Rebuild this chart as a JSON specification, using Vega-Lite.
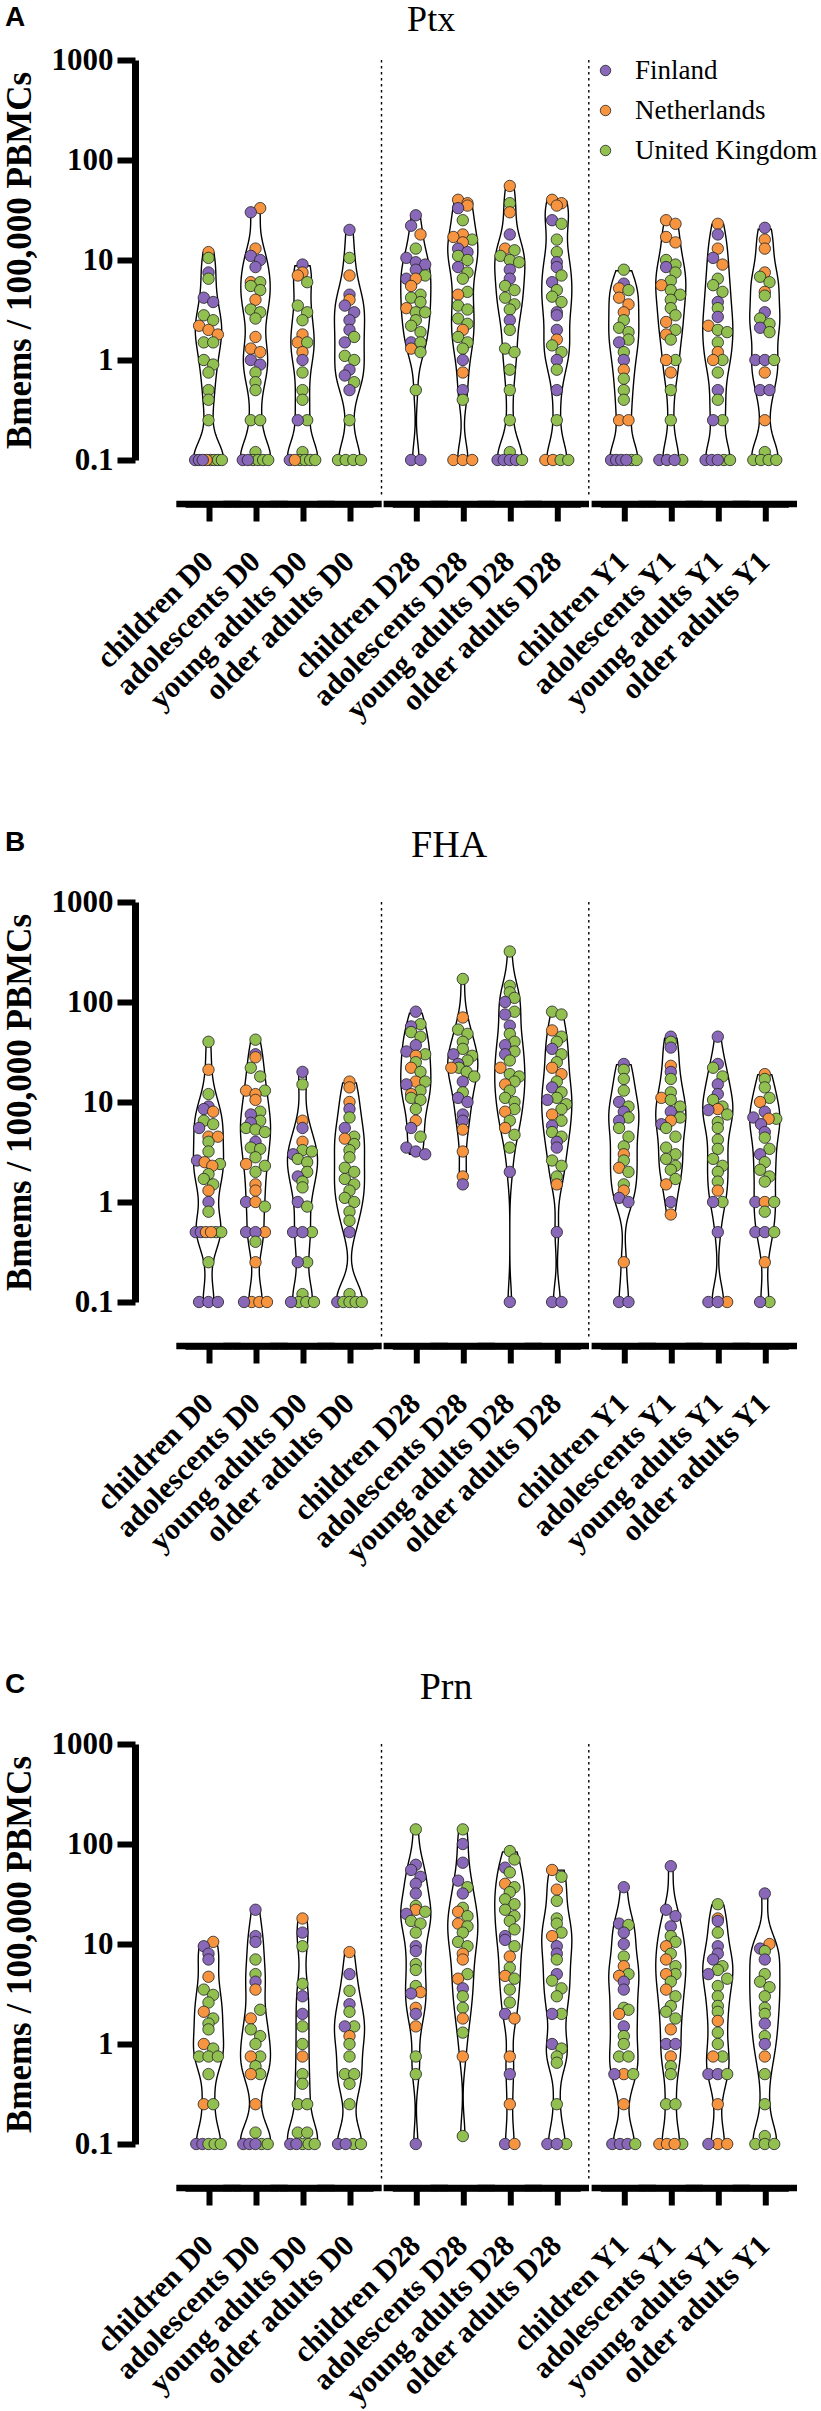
{
"$schema":"https://vega.github.io/schema/vega-lite/v6.json",
"padding":{"left":2,"right":0,"top":2,"bottom":0},
"background":"white",
"datasets":{
"Ptx_D0":[
{"age":"children","c":"Netherlands","v":12},{"age":"children","c":"United Kingdom","v":10.5},{"age":"children","c":"Finland","v":7.5},{"age":"children","c":"United Kingdom","v":6.5},{"age":"children","c":"Finland","v":4.2},{"age":"children","c":"Finland","v":3.8},{"age":"children","c":"United Kingdom","v":2.8},{"age":"children","c":"United Kingdom","v":2.5},{"age":"children","c":"Netherlands","v":2.2},{"age":"children","c":"Netherlands","v":2},{"age":"children","c":"Netherlands","v":1.8},{"age":"children","c":"United Kingdom","v":1.5},{"age":"children","c":"United Kingdom","v":1.5},{"age":"children","c":"United Kingdom","v":1},{"age":"children","c":"United Kingdom","v":0.9},{"age":"children","c":"United Kingdom","v":0.75},{"age":"children","c":"United Kingdom","v":0.5},{"age":"children","c":"United Kingdom","v":0.4},{"age":"children","c":"United Kingdom","v":0.25},{"age":"children","c":"Finland","v":0.1},{"age":"children","c":"Finland","v":0.1},{"age":"children","c":"United Kingdom","v":0.1},{"age":"children","c":"United Kingdom","v":0.1},{"age":"children","c":"United Kingdom","v":0.1},{"age":"children","c":"Netherlands","v":0.1},{"age":"children","c":"Finland","v":0.1},{"age":"children","c":"United Kingdom","v":0.1},
{"age":"adolescents","c":"Netherlands","v":33},{"age":"adolescents","c":"Finland","v":30},{"age":"adolescents","c":"Netherlands","v":13},{"age":"adolescents","c":"Finland","v":11},{"age":"adolescents","c":"Finland","v":10},{"age":"adolescents","c":"Finland","v":8.5},{"age":"adolescents","c":"Netherlands","v":6},{"age":"adolescents","c":"United Kingdom","v":6},{"age":"adolescents","c":"United Kingdom","v":5.5},{"age":"adolescents","c":"United Kingdom","v":5},{"age":"adolescents","c":"Netherlands","v":4},{"age":"adolescents","c":"United Kingdom","v":3.2},{"age":"adolescents","c":"United Kingdom","v":3},{"age":"adolescents","c":"United Kingdom","v":2.6},{"age":"adolescents","c":"Netherlands","v":1.7},{"age":"adolescents","c":"Netherlands","v":1.3},{"age":"adolescents","c":"Netherlands","v":1.2},{"age":"adolescents","c":"Finland","v":1},{"age":"adolescents","c":"Finland","v":0.9},{"age":"adolescents","c":"United Kingdom","v":0.75},{"age":"adolescents","c":"United Kingdom","v":0.6},{"age":"adolescents","c":"United Kingdom","v":0.5},{"age":"adolescents","c":"United Kingdom","v":0.25},{"age":"adolescents","c":"United Kingdom","v":0.25},{"age":"adolescents","c":"United Kingdom","v":0.12},{"age":"adolescents","c":"United Kingdom","v":0.1},{"age":"adolescents","c":"United Kingdom","v":0.1},{"age":"adolescents","c":"Finland","v":0.1},{"age":"adolescents","c":"United Kingdom","v":0.1},{"age":"adolescents","c":"United Kingdom","v":0.1},{"age":"adolescents","c":"Finland","v":0.1},
{"age":"young adults","c":"Finland","v":9},{"age":"young adults","c":"Netherlands","v":7.5},{"age":"young adults","c":"Netherlands","v":7},{"age":"young adults","c":"United Kingdom","v":6},{"age":"young adults","c":"United Kingdom","v":3.5},{"age":"young adults","c":"United Kingdom","v":3},{"age":"young adults","c":"United Kingdom","v":2.5},{"age":"young adults","c":"Netherlands","v":1.8},{"age":"young adults","c":"Netherlands","v":1.5},{"age":"young adults","c":"United Kingdom","v":1.5},{"age":"young adults","c":"Netherlands","v":1.2},{"age":"young adults","c":"Finland","v":1},{"age":"young adults","c":"United Kingdom","v":0.75},{"age":"young adults","c":"United Kingdom","v":0.5},{"age":"young adults","c":"United Kingdom","v":0.4},{"age":"young adults","c":"United Kingdom","v":0.25},{"age":"young adults","c":"Finland","v":0.25},{"age":"young adults","c":"United Kingdom","v":0.12},{"age":"young adults","c":"Finland","v":0.1},{"age":"young adults","c":"United Kingdom","v":0.1},{"age":"young adults","c":"United Kingdom","v":0.1},{"age":"young adults","c":"United Kingdom","v":0.1},{"age":"young adults","c":"United Kingdom","v":0.1},{"age":"young adults","c":"Netherlands","v":0.1},
{"age":"older adults","c":"Finland","v":20},{"age":"older adults","c":"United Kingdom","v":10.5},{"age":"older adults","c":"Netherlands","v":7},{"age":"older adults","c":"Finland","v":4.5},{"age":"older adults","c":"Netherlands","v":4},{"age":"older adults","c":"Finland","v":3.5},{"age":"older adults","c":"Finland","v":3},{"age":"older adults","c":"Finland","v":2.5},{"age":"older adults","c":"Finland","v":2},{"age":"older adults","c":"United Kingdom","v":1.7},{"age":"older adults","c":"Finland","v":1.5},{"age":"older adults","c":"United Kingdom","v":1.1},{"age":"older adults","c":"United Kingdom","v":1},{"age":"older adults","c":"Finland","v":0.8},{"age":"older adults","c":"Finland","v":0.7},{"age":"older adults","c":"United Kingdom","v":0.6},{"age":"older adults","c":"Finland","v":0.5},{"age":"older adults","c":"United Kingdom","v":0.25},{"age":"older adults","c":"United Kingdom","v":0.1},{"age":"older adults","c":"United Kingdom","v":0.1},{"age":"older adults","c":"United Kingdom","v":0.1},{"age":"older adults","c":"United Kingdom","v":0.1}
],
"Ptx_D28":[
{"age":"children","c":"Finland","v":28},{"age":"children","c":"Finland","v":22},{"age":"children","c":"Netherlands","v":18},{"age":"children","c":"United Kingdom","v":13},{"age":"children","c":"Finland","v":10.5},{"age":"children","c":"Finland","v":9.5},{"age":"children","c":"Finland","v":9},{"age":"children","c":"Finland","v":8},{"age":"children","c":"United Kingdom","v":7},{"age":"children","c":"Finland","v":6.5},{"age":"children","c":"Netherlands","v":6.5},{"age":"children","c":"Netherlands","v":5.5},{"age":"children","c":"United Kingdom","v":4.5},{"age":"children","c":"United Kingdom","v":4.2},{"age":"children","c":"United Kingdom","v":3.8},{"age":"children","c":"Netherlands","v":3.3},{"age":"children","c":"United Kingdom","v":3},{"age":"children","c":"United Kingdom","v":3},{"age":"children","c":"United Kingdom","v":2.5},{"age":"children","c":"United Kingdom","v":2.2},{"age":"children","c":"United Kingdom","v":1.9},{"age":"children","c":"Finland","v":1.5},{"age":"children","c":"United Kingdom","v":1.5},{"age":"children","c":"Netherlands","v":1.3},{"age":"children","c":"United Kingdom","v":1.2},{"age":"children","c":"United Kingdom","v":0.5},{"age":"children","c":"Finland","v":0.1},{"age":"children","c":"Finland","v":0.1},
{"age":"adolescents","c":"Netherlands","v":40},{"age":"adolescents","c":"Netherlands","v":37},{"age":"adolescents","c":"Netherlands","v":35},{"age":"adolescents","c":"Finland","v":33},{"age":"adolescents","c":"United Kingdom","v":25},{"age":"adolescents","c":"Netherlands","v":18},{"age":"adolescents","c":"Netherlands","v":17},{"age":"adolescents","c":"United Kingdom","v":16},{"age":"adolescents","c":"Netherlands","v":15},{"age":"adolescents","c":"Finland","v":13},{"age":"adolescents","c":"Finland","v":12},{"age":"adolescents","c":"United Kingdom","v":11},{"age":"adolescents","c":"United Kingdom","v":10},{"age":"adolescents","c":"Finland","v":8.5},{"age":"adolescents","c":"United Kingdom","v":7.5},{"age":"adolescents","c":"United Kingdom","v":6.5},{"age":"adolescents","c":"United Kingdom","v":4.8},{"age":"adolescents","c":"Netherlands","v":4.5},{"age":"adolescents","c":"United Kingdom","v":3.5},{"age":"adolescents","c":"United Kingdom","v":3.2},{"age":"adolescents","c":"United Kingdom","v":2.6},{"age":"adolescents","c":"United Kingdom","v":2.3},{"age":"adolescents","c":"Netherlands","v":2},{"age":"adolescents","c":"United Kingdom","v":1.7},{"age":"adolescents","c":"United Kingdom","v":1.5},{"age":"adolescents","c":"United Kingdom","v":1.3},{"age":"adolescents","c":"Finland","v":1},{"age":"adolescents","c":"Netherlands","v":0.75},{"age":"adolescents","c":"Finland","v":0.5},{"age":"adolescents","c":"United Kingdom","v":0.4},{"age":"adolescents","c":"Netherlands","v":0.1},{"age":"adolescents","c":"Netherlands","v":0.1},{"age":"adolescents","c":"Netherlands","v":0.1},
{"age":"young adults","c":"Netherlands","v":55},{"age":"young adults","c":"United Kingdom","v":37},{"age":"young adults","c":"Netherlands","v":30},{"age":"young adults","c":"Finland","v":18},{"age":"young adults","c":"Netherlands","v":13},{"age":"young adults","c":"United Kingdom","v":12.5},{"age":"young adults","c":"United Kingdom","v":11},{"age":"young adults","c":"United Kingdom","v":10},{"age":"young adults","c":"United Kingdom","v":9.5},{"age":"young adults","c":"Finland","v":8},{"age":"young adults","c":"Finland","v":6.5},{"age":"young adults","c":"United Kingdom","v":5.5},{"age":"young adults","c":"United Kingdom","v":5},{"age":"young adults","c":"United Kingdom","v":4.2},{"age":"young adults","c":"United Kingdom","v":3.6},{"age":"young adults","c":"United Kingdom","v":3.2},{"age":"young adults","c":"Finland","v":2.5},{"age":"young adults","c":"United Kingdom","v":2},{"age":"young adults","c":"United Kingdom","v":1.3},{"age":"young adults","c":"United Kingdom","v":1.2},{"age":"young adults","c":"United Kingdom","v":0.8},{"age":"young adults","c":"United Kingdom","v":0.5},{"age":"young adults","c":"United Kingdom","v":0.25},{"age":"young adults","c":"United Kingdom","v":0.12},{"age":"young adults","c":"Finland","v":0.1},{"age":"young adults","c":"Finland","v":0.1},{"age":"young adults","c":"Finland","v":0.1},{"age":"young adults","c":"Finland","v":0.1},{"age":"young adults","c":"United Kingdom","v":0.1},
{"age":"older adults","c":"Netherlands","v":40},{"age":"older adults","c":"Netherlands","v":37},{"age":"older adults","c":"Netherlands","v":35},{"age":"older adults","c":"Finland","v":25},{"age":"older adults","c":"United Kingdom","v":23},{"age":"older adults","c":"United Kingdom","v":16},{"age":"older adults","c":"United Kingdom","v":12},{"age":"older adults","c":"Finland","v":9.5},{"age":"older adults","c":"Finland","v":8.5},{"age":"older adults","c":"United Kingdom","v":7},{"age":"older adults","c":"Finland","v":6},{"age":"older adults","c":"United Kingdom","v":5},{"age":"older adults","c":"United Kingdom","v":4.3},{"age":"older adults","c":"United Kingdom","v":3.8},{"age":"older adults","c":"Finland","v":3},{"age":"older adults","c":"Finland","v":2.8},{"age":"older adults","c":"Finland","v":2},{"age":"older adults","c":"Netherlands","v":1.6},{"age":"older adults","c":"United Kingdom","v":1.4},{"age":"older adults","c":"United Kingdom","v":1.2},{"age":"older adults","c":"Finland","v":1},{"age":"older adults","c":"United Kingdom","v":0.8},{"age":"older adults","c":"Finland","v":0.5},{"age":"older adults","c":"United Kingdom","v":0.25},{"age":"older adults","c":"Netherlands","v":0.1},{"age":"older adults","c":"Netherlands","v":0.1},{"age":"older adults","c":"United Kingdom","v":0.1},{"age":"older adults","c":"United Kingdom","v":0.1}
],
"Ptx_Y1":[
{"age":"children","c":"United Kingdom","v":8},{"age":"children","c":"Finland","v":5.8},{"age":"children","c":"Netherlands","v":5.2},{"age":"children","c":"United Kingdom","v":5},{"age":"children","c":"Netherlands","v":4.2},{"age":"children","c":"Netherlands","v":3.6},{"age":"children","c":"Netherlands","v":3},{"age":"children","c":"United Kingdom","v":2.5},{"age":"children","c":"United Kingdom","v":2.1},{"age":"children","c":"United Kingdom","v":1.9},{"age":"children","c":"United Kingdom","v":1.6},{"age":"children","c":"Finland","v":1.5},{"age":"children","c":"United Kingdom","v":1.2},{"age":"children","c":"Finland","v":1},{"age":"children","c":"Netherlands","v":0.8},{"age":"children","c":"United Kingdom","v":0.65},{"age":"children","c":"United Kingdom","v":0.5},{"age":"children","c":"United Kingdom","v":0.4},{"age":"children","c":"Netherlands","v":0.25},{"age":"children","c":"Netherlands","v":0.25},{"age":"children","c":"Finland","v":0.1},{"age":"children","c":"Finland","v":0.1},{"age":"children","c":"Finland","v":0.1},{"age":"children","c":"United Kingdom","v":0.1},{"age":"children","c":"United Kingdom","v":0.1},{"age":"children","c":"Finland","v":0.1},
{"age":"adolescents","c":"Netherlands","v":25},{"age":"adolescents","c":"Netherlands","v":23},{"age":"adolescents","c":"Netherlands","v":17},{"age":"adolescents","c":"Netherlands","v":15},{"age":"adolescents","c":"United Kingdom","v":10},{"age":"adolescents","c":"United Kingdom","v":9},{"age":"adolescents","c":"Finland","v":8.5},{"age":"adolescents","c":"United Kingdom","v":7.5},{"age":"adolescents","c":"United Kingdom","v":6.2},{"age":"adolescents","c":"Netherlands","v":5.6},{"age":"adolescents","c":"United Kingdom","v":5},{"age":"adolescents","c":"United Kingdom","v":4.5},{"age":"adolescents","c":"United Kingdom","v":4},{"age":"adolescents","c":"United Kingdom","v":3.3},{"age":"adolescents","c":"United Kingdom","v":2.8},{"age":"adolescents","c":"Netherlands","v":2.4},{"age":"adolescents","c":"United Kingdom","v":2},{"age":"adolescents","c":"Netherlands","v":1.8},{"age":"adolescents","c":"United Kingdom","v":1.6},{"age":"adolescents","c":"United Kingdom","v":1},{"age":"adolescents","c":"Netherlands","v":1},{"age":"adolescents","c":"Netherlands","v":0.75},{"age":"adolescents","c":"United Kingdom","v":0.5},{"age":"adolescents","c":"United Kingdom","v":0.25},{"age":"adolescents","c":"Finland","v":0.1},{"age":"adolescents","c":"Finland","v":0.1},{"age":"adolescents","c":"United Kingdom","v":0.1},{"age":"adolescents","c":"Finland","v":0.1},
{"age":"young adults","c":"Netherlands","v":23},{"age":"young adults","c":"Finland","v":18},{"age":"young adults","c":"Netherlands","v":13},{"age":"young adults","c":"Finland","v":10.5},{"age":"young adults","c":"Netherlands","v":9},{"age":"young adults","c":"United Kingdom","v":6.5},{"age":"young adults","c":"United Kingdom","v":5.6},{"age":"young adults","c":"United Kingdom","v":4.8},{"age":"young adults","c":"Finland","v":3.8},{"age":"young adults","c":"United Kingdom","v":3.3},{"age":"young adults","c":"Finland","v":2.7},{"age":"young adults","c":"Netherlands","v":2.2},{"age":"young adults","c":"United Kingdom","v":2},{"age":"young adults","c":"United Kingdom","v":1.9},{"age":"young adults","c":"United Kingdom","v":1.5},{"age":"young adults","c":"Netherlands","v":1.2},{"age":"young adults","c":"United Kingdom","v":1},{"age":"young adults","c":"Netherlands","v":1},{"age":"young adults","c":"United Kingdom","v":0.75},{"age":"young adults","c":"Finland","v":0.5},{"age":"young adults","c":"United Kingdom","v":0.4},{"age":"young adults","c":"United Kingdom","v":0.25},{"age":"young adults","c":"Finland","v":0.25},{"age":"young adults","c":"Finland","v":0.1},{"age":"young adults","c":"Finland","v":0.1},{"age":"young adults","c":"United Kingdom","v":0.1},{"age":"young adults","c":"United Kingdom","v":0.1},{"age":"young adults","c":"Finland","v":0.1},
{"age":"older adults","c":"Finland","v":21},{"age":"older adults","c":"Netherlands","v":16},{"age":"older adults","c":"Netherlands","v":13},{"age":"older adults","c":"Netherlands","v":7.5},{"age":"older adults","c":"United Kingdom","v":6.8},{"age":"older adults","c":"United Kingdom","v":6},{"age":"older adults","c":"Netherlands","v":4.8},{"age":"older adults","c":"United Kingdom","v":4.4},{"age":"older adults","c":"Finland","v":3},{"age":"older adults","c":"United Kingdom","v":2.6},{"age":"older adults","c":"United Kingdom","v":2.3},{"age":"older adults","c":"Finland","v":2.1},{"age":"older adults","c":"United Kingdom","v":1.9},{"age":"older adults","c":"Finland","v":1},{"age":"older adults","c":"Finland","v":1},{"age":"older adults","c":"United Kingdom","v":1},{"age":"older adults","c":"Netherlands","v":0.75},{"age":"older adults","c":"Finland","v":0.5},{"age":"older adults","c":"Finland","v":0.5},{"age":"older adults","c":"Netherlands","v":0.25},{"age":"older adults","c":"United Kingdom","v":0.12},{"age":"older adults","c":"United Kingdom","v":0.1},{"age":"older adults","c":"United Kingdom","v":0.1},{"age":"older adults","c":"United Kingdom","v":0.1},{"age":"older adults","c":"United Kingdom","v":0.1}
],
"FHA_D0":[
{"age":"children","c":"United Kingdom","v":40},{"age":"children","c":"Netherlands","v":21},{"age":"children","c":"United Kingdom","v":12},{"age":"children","c":"Finland","v":9},{"age":"children","c":"Finland","v":8.5},{"age":"children","c":"Netherlands","v":8},{"age":"children","c":"United Kingdom","v":6.5},{"age":"children","c":"United Kingdom","v":6},{"age":"children","c":"Finland","v":5.5},{"age":"children","c":"Netherlands","v":4.5},{"age":"children","c":"Netherlands","v":4.5},{"age":"children","c":"United Kingdom","v":4},{"age":"children","c":"United Kingdom","v":3.2},{"age":"children","c":"Finland","v":2.6},{"age":"children","c":"Netherlands","v":2.5},{"age":"children","c":"United Kingdom","v":2.4},{"age":"children","c":"Netherlands","v":2.3},{"age":"children","c":"United Kingdom","v":1.9},{"age":"children","c":"United Kingdom","v":1.7},{"age":"children","c":"United Kingdom","v":1.5},{"age":"children","c":"Netherlands","v":1.3},{"age":"children","c":"Finland","v":1},{"age":"children","c":"United Kingdom","v":0.8},{"age":"children","c":"United Kingdom","v":0.5},{"age":"children","c":"United Kingdom","v":0.5},{"age":"children","c":"Finland","v":0.5},{"age":"children","c":"Finland","v":0.5},{"age":"children","c":"Netherlands","v":0.5},{"age":"children","c":"Netherlands","v":0.5},{"age":"children","c":"United Kingdom","v":0.25},{"age":"children","c":"Finland","v":0.1},{"age":"children","c":"Finland","v":0.1},{"age":"children","c":"Finland","v":0.1},
{"age":"adolescents","c":"United Kingdom","v":42},{"age":"adolescents","c":"Finland","v":30},{"age":"adolescents","c":"Netherlands","v":28},{"age":"adolescents","c":"United Kingdom","v":22},{"age":"adolescents","c":"United Kingdom","v":18},{"age":"adolescents","c":"Netherlands","v":13},{"age":"adolescents","c":"United Kingdom","v":13},{"age":"adolescents","c":"Netherlands","v":12},{"age":"adolescents","c":"Netherlands","v":10.5},{"age":"adolescents","c":"United Kingdom","v":8},{"age":"adolescents","c":"Finland","v":7.5},{"age":"adolescents","c":"United Kingdom","v":6.5},{"age":"adolescents","c":"Finland","v":6.2},{"age":"adolescents","c":"United Kingdom","v":5.5},{"age":"adolescents","c":"United Kingdom","v":5.3},{"age":"adolescents","c":"United Kingdom","v":5},{"age":"adolescents","c":"Finland","v":4},{"age":"adolescents","c":"United Kingdom","v":3.5},{"age":"adolescents","c":"United Kingdom","v":3.4},{"age":"adolescents","c":"United Kingdom","v":2.8},{"age":"adolescents","c":"Netherlands","v":2.4},{"age":"adolescents","c":"United Kingdom","v":2.3},{"age":"adolescents","c":"United Kingdom","v":2},{"age":"adolescents","c":"Netherlands","v":1.5},{"age":"adolescents","c":"Netherlands","v":1.3},{"age":"adolescents","c":"Finland","v":1},{"age":"adolescents","c":"Netherlands","v":1},{"age":"adolescents","c":"United Kingdom","v":0.9},{"age":"adolescents","c":"Finland","v":0.5},{"age":"adolescents","c":"Netherlands","v":0.5},{"age":"adolescents","c":"Finland","v":0.5},{"age":"adolescents","c":"United Kingdom","v":0.4},{"age":"adolescents","c":"Netherlands","v":0.25},{"age":"adolescents","c":"Netherlands","v":0.1},{"age":"adolescents","c":"Finland","v":0.1},{"age":"adolescents","c":"Netherlands","v":0.1},{"age":"adolescents","c":"Netherlands","v":0.1},
{"age":"young adults","c":"Finland","v":20},{"age":"young adults","c":"United Kingdom","v":15},{"age":"young adults","c":"Netherlands","v":6.5},{"age":"young adults","c":"Finland","v":5.5},{"age":"young adults","c":"Netherlands","v":4},{"age":"young adults","c":"United Kingdom","v":3.3},{"age":"young adults","c":"United Kingdom","v":3.2},{"age":"young adults","c":"Finland","v":3},{"age":"young adults","c":"United Kingdom","v":2.7},{"age":"young adults","c":"United Kingdom","v":2.5},{"age":"young adults","c":"United Kingdom","v":2},{"age":"young adults","c":"Finland","v":1.8},{"age":"young adults","c":"United Kingdom","v":1.6},{"age":"young adults","c":"United Kingdom","v":1.4},{"age":"young adults","c":"Finland","v":1},{"age":"young adults","c":"United Kingdom","v":0.9},{"age":"young adults","c":"Finland","v":0.5},{"age":"young adults","c":"United Kingdom","v":0.5},{"age":"young adults","c":"Finland","v":0.5},{"age":"young adults","c":"United Kingdom","v":0.25},{"age":"young adults","c":"Finland","v":0.25},{"age":"young adults","c":"United Kingdom","v":0.12},{"age":"young adults","c":"United Kingdom","v":0.1},{"age":"young adults","c":"United Kingdom","v":0.1},{"age":"young adults","c":"Finland","v":0.1},{"age":"young adults","c":"United Kingdom","v":0.1},
{"age":"older adults","c":"Netherlands","v":16},{"age":"older adults","c":"Netherlands","v":14},{"age":"older adults","c":"Netherlands","v":10},{"age":"older adults","c":"Finland","v":8.5},{"age":"older adults","c":"United Kingdom","v":7},{"age":"older adults","c":"Finland","v":5.5},{"age":"older adults","c":"United Kingdom","v":4.5},{"age":"older adults","c":"Netherlands","v":4.3},{"age":"older adults","c":"United Kingdom","v":3.8},{"age":"older adults","c":"United Kingdom","v":3.3},{"age":"older adults","c":"United Kingdom","v":2.8},{"age":"older adults","c":"United Kingdom","v":2.2},{"age":"older adults","c":"United Kingdom","v":2},{"age":"older adults","c":"United Kingdom","v":1.7},{"age":"older adults","c":"United Kingdom","v":1.5},{"age":"older adults","c":"United Kingdom","v":1.3},{"age":"older adults","c":"United Kingdom","v":1.1},{"age":"older adults","c":"United Kingdom","v":1},{"age":"older adults","c":"United Kingdom","v":0.8},{"age":"older adults","c":"United Kingdom","v":0.65},{"age":"older adults","c":"Finland","v":0.5},{"age":"older adults","c":"United Kingdom","v":0.12},{"age":"older adults","c":"Finland","v":0.1},{"age":"older adults","c":"United Kingdom","v":0.1},{"age":"older adults","c":"United Kingdom","v":0.1},{"age":"older adults","c":"United Kingdom","v":0.1},{"age":"older adults","c":"United Kingdom","v":0.1}
],
"FHA_D28":[
{"age":"children","c":"Finland","v":80},{"age":"children","c":"United Kingdom","v":60},{"age":"children","c":"Finland","v":57},{"age":"children","c":"United Kingdom","v":50},{"age":"children","c":"United Kingdom","v":45},{"age":"children","c":"Finland","v":37},{"age":"children","c":"Finland","v":32},{"age":"children","c":"United Kingdom","v":30},{"age":"children","c":"Netherlands","v":29},{"age":"children","c":"United Kingdom","v":25},{"age":"children","c":"Netherlands","v":22},{"age":"children","c":"United Kingdom","v":20},{"age":"children","c":"Netherlands","v":16},{"age":"children","c":"United Kingdom","v":16},{"age":"children","c":"Finland","v":15},{"age":"children","c":"United Kingdom","v":13},{"age":"children","c":"Netherlands","v":12},{"age":"children","c":"United Kingdom","v":11},{"age":"children","c":"United Kingdom","v":10.5},{"age":"children","c":"United Kingdom","v":8.5},{"age":"children","c":"Netherlands","v":6.5},{"age":"children","c":"Finland","v":5.5},{"age":"children","c":"United Kingdom","v":4.5},{"age":"children","c":"Finland","v":3.5},{"age":"children","c":"Finland","v":3.2},{"age":"children","c":"Finland","v":3},
{"age":"adolescents","c":"United Kingdom","v":170},{"age":"adolescents","c":"Netherlands","v":70},{"age":"adolescents","c":"United Kingdom","v":53},{"age":"adolescents","c":"United Kingdom","v":48},{"age":"adolescents","c":"United Kingdom","v":40},{"age":"adolescents","c":"United Kingdom","v":34},{"age":"adolescents","c":"Finland","v":30},{"age":"adolescents","c":"United Kingdom","v":29},{"age":"adolescents","c":"United Kingdom","v":26},{"age":"adolescents","c":"Finland","v":24},{"age":"adolescents","c":"United Kingdom","v":22},{"age":"adolescents","c":"Netherlands","v":22},{"age":"adolescents","c":"United Kingdom","v":20},{"age":"adolescents","c":"United Kingdom","v":18},{"age":"adolescents","c":"Finland","v":16},{"age":"adolescents","c":"United Kingdom","v":12.5},{"age":"adolescents","c":"Finland","v":11},{"age":"adolescents","c":"Finland","v":10},{"age":"adolescents","c":"Finland","v":7.5},{"age":"adolescents","c":"Finland","v":6.5},{"age":"adolescents","c":"Netherlands","v":5.3},{"age":"adolescents","c":"Netherlands","v":3.2},{"age":"adolescents","c":"Netherlands","v":1.8},{"age":"adolescents","c":"Finland","v":1.5},
{"age":"young adults","c":"United Kingdom","v":320},{"age":"young adults","c":"United Kingdom","v":145},{"age":"young adults","c":"United Kingdom","v":125},{"age":"young adults","c":"United Kingdom","v":110},{"age":"young adults","c":"Finland","v":100},{"age":"young adults","c":"United Kingdom","v":80},{"age":"young adults","c":"Finland","v":75},{"age":"young adults","c":"Finland","v":58},{"age":"young adults","c":"United Kingdom","v":48},{"age":"young adults","c":"United Kingdom","v":40},{"age":"young adults","c":"Finland","v":37},{"age":"young adults","c":"United Kingdom","v":32},{"age":"young adults","c":"Finland","v":30},{"age":"young adults","c":"United Kingdom","v":26},{"age":"young adults","c":"Netherlands","v":22},{"age":"young adults","c":"United Kingdom","v":19},{"age":"young adults","c":"United Kingdom","v":18},{"age":"young adults","c":"United Kingdom","v":16},{"age":"young adults","c":"Netherlands","v":15},{"age":"young adults","c":"United Kingdom","v":13},{"age":"young adults","c":"United Kingdom","v":11},{"age":"young adults","c":"United Kingdom","v":10},{"age":"young adults","c":"United Kingdom","v":8.5},{"age":"young adults","c":"Netherlands","v":8},{"age":"young adults","c":"United Kingdom","v":6.5},{"age":"young adults","c":"Netherlands","v":5.5},{"age":"young adults","c":"United Kingdom","v":4.7},{"age":"young adults","c":"United Kingdom","v":3.5},{"age":"young adults","c":"Finland","v":2},{"age":"young adults","c":"Finland","v":0.1},
{"age":"older adults","c":"United Kingdom","v":80},{"age":"older adults","c":"United Kingdom","v":75},{"age":"older adults","c":"Netherlands","v":52},{"age":"older adults","c":"United Kingdom","v":45},{"age":"older adults","c":"United Kingdom","v":40},{"age":"older adults","c":"Finland","v":34},{"age":"older adults","c":"United Kingdom","v":30},{"age":"older adults","c":"United Kingdom","v":25},{"age":"older adults","c":"Netherlands","v":22},{"age":"older adults","c":"Netherlands","v":19},{"age":"older adults","c":"United Kingdom","v":16},{"age":"older adults","c":"Finland","v":14},{"age":"older adults","c":"United Kingdom","v":12.5},{"age":"older adults","c":"United Kingdom","v":11},{"age":"older adults","c":"Finland","v":10.5},{"age":"older adults","c":"United Kingdom","v":9.5},{"age":"older adults","c":"United Kingdom","v":8.5},{"age":"older adults","c":"Netherlands","v":7.5},{"age":"older adults","c":"United Kingdom","v":6.5},{"age":"older adults","c":"Finland","v":5.8},{"age":"older adults","c":"United Kingdom","v":5},{"age":"older adults","c":"United Kingdom","v":4.5},{"age":"older adults","c":"Finland","v":4},{"age":"older adults","c":"Finland","v":3.5},{"age":"older adults","c":"United Kingdom","v":2.6},{"age":"older adults","c":"United Kingdom","v":2.3},{"age":"older adults","c":"United Kingdom","v":1.8},{"age":"older adults","c":"Netherlands","v":1.5},{"age":"older adults","c":"Finland","v":0.5},{"age":"older adults","c":"Finland","v":0.1},{"age":"older adults","c":"Finland","v":0.1}
],
"FHA_Y1":[
{"age":"children","c":"Finland","v":24},{"age":"children","c":"United Kingdom","v":21},{"age":"children","c":"United Kingdom","v":17},{"age":"children","c":"United Kingdom","v":13},{"age":"children","c":"Finland","v":10},{"age":"children","c":"United Kingdom","v":9},{"age":"children","c":"Finland","v":8},{"age":"children","c":"United Kingdom","v":7},{"age":"children","c":"Finland","v":6.5},{"age":"children","c":"United Kingdom","v":5.5},{"age":"children","c":"United Kingdom","v":4.5},{"age":"children","c":"United Kingdom","v":3.6},{"age":"children","c":"Netherlands","v":3},{"age":"children","c":"United Kingdom","v":2.6},{"age":"children","c":"Netherlands","v":2.2},{"age":"children","c":"United Kingdom","v":2},{"age":"children","c":"United Kingdom","v":1.5},{"age":"children","c":"Netherlands","v":1.3},{"age":"children","c":"Finland","v":1.1},{"age":"children","c":"Finland","v":1},{"age":"children","c":"Netherlands","v":0.25},{"age":"children","c":"Finland","v":0.1},{"age":"children","c":"Finland","v":0.1},
{"age":"adolescents","c":"Finland","v":45},{"age":"adolescents","c":"United Kingdom","v":40},{"age":"adolescents","c":"Finland","v":35},{"age":"adolescents","c":"Netherlands","v":23},{"age":"adolescents","c":"Finland","v":20},{"age":"adolescents","c":"United Kingdom","v":17},{"age":"adolescents","c":"United Kingdom","v":12.5},{"age":"adolescents","c":"Netherlands","v":11},{"age":"adolescents","c":"United Kingdom","v":10.5},{"age":"adolescents","c":"United Kingdom","v":9},{"age":"adolescents","c":"Finland","v":8},{"age":"adolescents","c":"United Kingdom","v":7},{"age":"adolescents","c":"Netherlands","v":6.5},{"age":"adolescents","c":"Finland","v":6},{"age":"adolescents","c":"United Kingdom","v":5.5},{"age":"adolescents","c":"United Kingdom","v":4.5},{"age":"adolescents","c":"United Kingdom","v":3.5},{"age":"adolescents","c":"United Kingdom","v":3},{"age":"adolescents","c":"United Kingdom","v":2.7},{"age":"adolescents","c":"United Kingdom","v":2.3},{"age":"adolescents","c":"United Kingdom","v":2.1},{"age":"adolescents","c":"United Kingdom","v":1.7},{"age":"adolescents","c":"Netherlands","v":1.5},{"age":"adolescents","c":"Finland","v":1},{"age":"adolescents","c":"Netherlands","v":0.75},
{"age":"young adults","c":"Finland","v":45},{"age":"young adults","c":"Finland","v":24},{"age":"young adults","c":"United Kingdom","v":22},{"age":"young adults","c":"United Kingdom","v":18},{"age":"young adults","c":"Finland","v":15},{"age":"young adults","c":"Finland","v":12},{"age":"young adults","c":"United Kingdom","v":10.5},{"age":"young adults","c":"United Kingdom","v":9},{"age":"young adults","c":"Netherlands","v":8.5},{"age":"young adults","c":"Finland","v":8.3},{"age":"young adults","c":"United Kingdom","v":7.5},{"age":"young adults","c":"United Kingdom","v":6.3},{"age":"young adults","c":"United Kingdom","v":5.5},{"age":"young adults","c":"United Kingdom","v":4.2},{"age":"young adults","c":"United Kingdom","v":3.4},{"age":"young adults","c":"United Kingdom","v":2.7},{"age":"young adults","c":"United Kingdom","v":2.3},{"age":"young adults","c":"United Kingdom","v":2},{"age":"young adults","c":"United Kingdom","v":1.6},{"age":"young adults","c":"Netherlands","v":1.3},{"age":"young adults","c":"United Kingdom","v":1},{"age":"young adults","c":"Finland","v":1},{"age":"young adults","c":"Finland","v":0.5},{"age":"young adults","c":"Finland","v":0.1},{"age":"young adults","c":"Netherlands","v":0.1},{"age":"young adults","c":"Finland","v":0.1},
{"age":"older adults","c":"Netherlands","v":19},{"age":"older adults","c":"United Kingdom","v":17},{"age":"older adults","c":"United Kingdom","v":14},{"age":"older adults","c":"United Kingdom","v":11},{"age":"older adults","c":"Netherlands","v":10},{"age":"older adults","c":"Finland","v":8},{"age":"older adults","c":"Finland","v":7},{"age":"older adults","c":"United Kingdom","v":6.8},{"age":"older adults","c":"Netherlands","v":6.8},{"age":"older adults","c":"Finland","v":6},{"age":"older adults","c":"Finland","v":5},{"age":"older adults","c":"United Kingdom","v":4.4},{"age":"older adults","c":"United Kingdom","v":3.4},{"age":"older adults","c":"Finland","v":3},{"age":"older adults","c":"United Kingdom","v":2.5},{"age":"older adults","c":"United Kingdom","v":2.1},{"age":"older adults","c":"United Kingdom","v":1.8},{"age":"older adults","c":"United Kingdom","v":1.6},{"age":"older adults","c":"Finland","v":1},{"age":"older adults","c":"Netherlands","v":1},{"age":"older adults","c":"United Kingdom","v":1},{"age":"older adults","c":"United Kingdom","v":0.8},{"age":"older adults","c":"Finland","v":0.5},{"age":"older adults","c":"Finland","v":0.5},{"age":"older adults","c":"United Kingdom","v":0.5},{"age":"older adults","c":"Netherlands","v":0.25},{"age":"older adults","c":"United Kingdom","v":0.1},{"age":"older adults","c":"Finland","v":0.1}
],
"Prn_D0":[
{"age":"children","c":"Netherlands","v":10.5},{"age":"children","c":"Finland","v":9.5},{"age":"children","c":"Finland","v":8},{"age":"children","c":"Finland","v":7},{"age":"children","c":"Netherlands","v":4.7},{"age":"children","c":"United Kingdom","v":3.5},{"age":"children","c":"United Kingdom","v":3.1},{"age":"children","c":"United Kingdom","v":2.6},{"age":"children","c":"Netherlands","v":2.1},{"age":"children","c":"United Kingdom","v":1.8},{"age":"children","c":"United Kingdom","v":1.6},{"age":"children","c":"United Kingdom","v":1.4},{"age":"children","c":"Netherlands","v":1},{"age":"children","c":"United Kingdom","v":0.9},{"age":"children","c":"United Kingdom","v":0.75},{"age":"children","c":"United Kingdom","v":0.75},{"age":"children","c":"United Kingdom","v":0.75},{"age":"children","c":"United Kingdom","v":0.5},{"age":"children","c":"Netherlands","v":0.25},{"age":"children","c":"United Kingdom","v":0.25},{"age":"children","c":"Finland","v":0.1},{"age":"children","c":"Finland","v":0.1},{"age":"children","c":"United Kingdom","v":0.1},{"age":"children","c":"United Kingdom","v":0.1},{"age":"children","c":"United Kingdom","v":0.1},
{"age":"adolescents","c":"Finland","v":22},{"age":"adolescents","c":"Finland","v":12},{"age":"adolescents","c":"Finland","v":10.5},{"age":"adolescents","c":"United Kingdom","v":7},{"age":"adolescents","c":"United Kingdom","v":5},{"age":"adolescents","c":"Finland","v":4.2},{"age":"adolescents","c":"Netherlands","v":3.5},{"age":"adolescents","c":"United Kingdom","v":2.2},{"age":"adolescents","c":"Netherlands","v":1.8},{"age":"adolescents","c":"United Kingdom","v":1.4},{"age":"adolescents","c":"United Kingdom","v":1.2},{"age":"adolescents","c":"United Kingdom","v":1},{"age":"adolescents","c":"United Kingdom","v":0.75},{"age":"adolescents","c":"Netherlands","v":0.75},{"age":"adolescents","c":"United Kingdom","v":0.6},{"age":"adolescents","c":"United Kingdom","v":0.5},{"age":"adolescents","c":"Netherlands","v":0.5},{"age":"adolescents","c":"Netherlands","v":0.25},{"age":"adolescents","c":"United Kingdom","v":0.13},{"age":"adolescents","c":"United Kingdom","v":0.1},{"age":"adolescents","c":"Finland","v":0.1},{"age":"adolescents","c":"Finland","v":0.1},{"age":"adolescents","c":"Finland","v":0.1},{"age":"adolescents","c":"United Kingdom","v":0.1},
{"age":"young adults","c":"Netherlands","v":18},{"age":"young adults","c":"Finland","v":13},{"age":"young adults","c":"United Kingdom","v":9.5},{"age":"young adults","c":"United Kingdom","v":4},{"age":"young adults","c":"Finland","v":3},{"age":"young adults","c":"Finland","v":2},{"age":"young adults","c":"United Kingdom","v":1.5},{"age":"young adults","c":"United Kingdom","v":1},{"age":"young adults","c":"Netherlands","v":0.75},{"age":"young adults","c":"United Kingdom","v":0.5},{"age":"young adults","c":"United Kingdom","v":0.4},{"age":"young adults","c":"United Kingdom","v":0.25},{"age":"young adults","c":"United Kingdom","v":0.25},{"age":"young adults","c":"United Kingdom","v":0.13},{"age":"young adults","c":"United Kingdom","v":0.13},{"age":"young adults","c":"United Kingdom","v":0.1},{"age":"young adults","c":"United Kingdom","v":0.1},{"age":"young adults","c":"Finland","v":0.1},{"age":"young adults","c":"United Kingdom","v":0.1},{"age":"young adults","c":"Finland","v":0.1},
{"age":"older adults","c":"Netherlands","v":8.3},{"age":"older adults","c":"Finland","v":5},{"age":"older adults","c":"United Kingdom","v":3.4},{"age":"older adults","c":"Finland","v":2.5},{"age":"older adults","c":"United Kingdom","v":2.1},{"age":"older adults","c":"United Kingdom","v":1.5},{"age":"older adults","c":"Finland","v":1.5},{"age":"older adults","c":"Netherlands","v":1.2},{"age":"older adults","c":"United Kingdom","v":1},{"age":"older adults","c":"United Kingdom","v":0.75},{"age":"older adults","c":"United Kingdom","v":0.5},{"age":"older adults","c":"United Kingdom","v":0.5},{"age":"older adults","c":"United Kingdom","v":0.4},{"age":"older adults","c":"United Kingdom","v":0.25},{"age":"older adults","c":"Finland","v":0.1},{"age":"older adults","c":"United Kingdom","v":0.1},{"age":"older adults","c":"United Kingdom","v":0.1},{"age":"older adults","c":"Finland","v":0.1}
],
"Prn_D28":[
{"age":"children","c":"United Kingdom","v":140},{"age":"children","c":"Finland","v":62},{"age":"children","c":"Finland","v":55},{"age":"children","c":"Finland","v":47},{"age":"children","c":"Finland","v":40},{"age":"children","c":"Finland","v":32},{"age":"children","c":"United Kingdom","v":24},{"age":"children","c":"Netherlands","v":22},{"age":"children","c":"United Kingdom","v":21},{"age":"children","c":"Finland","v":20},{"age":"children","c":"United Kingdom","v":17},{"age":"children","c":"United Kingdom","v":16},{"age":"children","c":"United Kingdom","v":13},{"age":"children","c":"Finland","v":9.5},{"age":"children","c":"Finland","v":8.5},{"age":"children","c":"United Kingdom","v":6.3},{"age":"children","c":"United Kingdom","v":5.5},{"age":"children","c":"United Kingdom","v":3.8},{"age":"children","c":"Netherlands","v":3.3},{"age":"children","c":"Finland","v":3.2},{"age":"children","c":"Netherlands","v":2.3},{"age":"children","c":"Finland","v":2},{"age":"children","c":"Netherlands","v":1.5},{"age":"children","c":"United Kingdom","v":0.75},{"age":"children","c":"United Kingdom","v":0.5},{"age":"children","c":"Finland","v":0.1},
{"age":"adolescents","c":"United Kingdom","v":140},{"age":"adolescents","c":"Finland","v":100},{"age":"adolescents","c":"Finland","v":65},{"age":"adolescents","c":"Finland","v":43},{"age":"adolescents","c":"United Kingdom","v":37},{"age":"adolescents","c":"Finland","v":32},{"age":"adolescents","c":"United Kingdom","v":23},{"age":"adolescents","c":"Netherlands","v":21},{"age":"adolescents","c":"United Kingdom","v":19},{"age":"adolescents","c":"Netherlands","v":16},{"age":"adolescents","c":"United Kingdom","v":15},{"age":"adolescents","c":"United Kingdom","v":13},{"age":"adolescents","c":"United Kingdom","v":10.5},{"age":"adolescents","c":"United Kingdom","v":9.5},{"age":"adolescents","c":"Netherlands","v":8},{"age":"adolescents","c":"Netherlands","v":7},{"age":"adolescents","c":"United Kingdom","v":5},{"age":"adolescents","c":"Netherlands","v":4.5},{"age":"adolescents","c":"Finland","v":3.6},{"age":"adolescents","c":"United Kingdom","v":3},{"age":"adolescents","c":"United Kingdom","v":2.3},{"age":"adolescents","c":"Netherlands","v":1.8},{"age":"adolescents","c":"United Kingdom","v":1.3},{"age":"adolescents","c":"Netherlands","v":0.75},{"age":"adolescents","c":"United Kingdom","v":0.12},
{"age":"young adults","c":"United Kingdom","v":85},{"age":"young adults","c":"United Kingdom","v":70},{"age":"young adults","c":"Finland","v":58},{"age":"young adults","c":"United Kingdom","v":52},{"age":"young adults","c":"Netherlands","v":40},{"age":"young adults","c":"United Kingdom","v":37},{"age":"young adults","c":"United Kingdom","v":33},{"age":"young adults","c":"United Kingdom","v":28},{"age":"young adults","c":"United Kingdom","v":25},{"age":"young adults","c":"United Kingdom","v":22},{"age":"young adults","c":"United Kingdom","v":19},{"age":"young adults","c":"United Kingdom","v":17},{"age":"young adults","c":"United Kingdom","v":14},{"age":"young adults","c":"Finland","v":12},{"age":"young adults","c":"Finland","v":11},{"age":"young adults","c":"United Kingdom","v":9.5},{"age":"young adults","c":"Netherlands","v":7.5},{"age":"young adults","c":"United Kingdom","v":5.8},{"age":"young adults","c":"Netherlands","v":4.8},{"age":"young adults","c":"United Kingdom","v":4.5},{"age":"young adults","c":"United Kingdom","v":3.5},{"age":"young adults","c":"United Kingdom","v":2.6},{"age":"young adults","c":"Finland","v":2},{"age":"young adults","c":"Netherlands","v":1.8},{"age":"young adults","c":"Netherlands","v":0.75},{"age":"young adults","c":"Finland","v":0.5},{"age":"young adults","c":"Netherlands","v":0.25},{"age":"young adults","c":"Finland","v":0.1},{"age":"young adults","c":"Netherlands","v":0.1},
{"age":"older adults","c":"Netherlands","v":55},{"age":"older adults","c":"United Kingdom","v":47},{"age":"older adults","c":"Netherlands","v":35},{"age":"older adults","c":"United Kingdom","v":27},{"age":"older adults","c":"United Kingdom","v":18},{"age":"older adults","c":"United Kingdom","v":16},{"age":"older adults","c":"United Kingdom","v":13},{"age":"older adults","c":"Netherlands","v":12},{"age":"older adults","c":"Finland","v":9.5},{"age":"older adults","c":"Finland","v":8},{"age":"older adults","c":"United Kingdom","v":7},{"age":"older adults","c":"Finland","v":5},{"age":"older adults","c":"United Kingdom","v":4.3},{"age":"older adults","c":"United Kingdom","v":3.6},{"age":"older adults","c":"United Kingdom","v":3},{"age":"older adults","c":"United Kingdom","v":2},{"age":"older adults","c":"Finland","v":2},{"age":"older adults","c":"Finland","v":1},{"age":"older adults","c":"United Kingdom","v":0.9},{"age":"older adults","c":"United Kingdom","v":0.75},{"age":"older adults","c":"United Kingdom","v":0.65},{"age":"older adults","c":"United Kingdom","v":0.25},{"age":"older adults","c":"Finland","v":0.1},{"age":"older adults","c":"United Kingdom","v":0.1},{"age":"older adults","c":"Finland","v":0.1}
],
"Prn_Y1":[
{"age":"children","c":"Finland","v":37},{"age":"children","c":"Finland","v":16},{"age":"children","c":"United Kingdom","v":15.5},{"age":"children","c":"Finland","v":13},{"age":"children","c":"Finland","v":10},{"age":"children","c":"United Kingdom","v":7.5},{"age":"children","c":"Netherlands","v":6},{"age":"children","c":"United Kingdom","v":5},{"age":"children","c":"Netherlands","v":4.8},{"age":"children","c":"Finland","v":4.2},{"age":"children","c":"Finland","v":3.5},{"age":"children","c":"United Kingdom","v":2.3},{"age":"children","c":"United Kingdom","v":2.2},{"age":"children","c":"Netherlands","v":2},{"age":"children","c":"Finland","v":1.5},{"age":"children","c":"United Kingdom","v":1.2},{"age":"children","c":"United Kingdom","v":1},{"age":"children","c":"United Kingdom","v":0.75},{"age":"children","c":"United Kingdom","v":0.75},{"age":"children","c":"Netherlands","v":0.5},{"age":"children","c":"United Kingdom","v":0.5},{"age":"children","c":"Finland","v":0.5},{"age":"children","c":"Netherlands","v":0.25},{"age":"children","c":"Finland","v":0.1},{"age":"children","c":"Finland","v":0.1},{"age":"children","c":"Finland","v":0.1},{"age":"children","c":"United Kingdom","v":0.1},
{"age":"adolescents","c":"Finland","v":60},{"age":"adolescents","c":"Finland","v":22},{"age":"adolescents","c":"Finland","v":19},{"age":"adolescents","c":"Finland","v":15},{"age":"adolescents","c":"United Kingdom","v":12},{"age":"adolescents","c":"United Kingdom","v":10.5},{"age":"adolescents","c":"Netherlands","v":9.5},{"age":"adolescents","c":"United Kingdom","v":8},{"age":"adolescents","c":"Netherlands","v":7},{"age":"adolescents","c":"United Kingdom","v":6},{"age":"adolescents","c":"United Kingdom","v":5},{"age":"adolescents","c":"Netherlands","v":5},{"age":"adolescents","c":"United Kingdom","v":4.2},{"age":"adolescents","c":"Netherlands","v":3.5},{"age":"adolescents","c":"United Kingdom","v":3},{"age":"adolescents","c":"United Kingdom","v":2.4},{"age":"adolescents","c":"United Kingdom","v":2.1},{"age":"adolescents","c":"United Kingdom","v":1.8},{"age":"adolescents","c":"Netherlands","v":1.4},{"age":"adolescents","c":"Finland","v":1},{"age":"adolescents","c":"Finland","v":1},{"age":"adolescents","c":"Netherlands","v":0.75},{"age":"adolescents","c":"United Kingdom","v":0.6},{"age":"adolescents","c":"United Kingdom","v":0.5},{"age":"adolescents","c":"United Kingdom","v":0.25},{"age":"adolescents","c":"United Kingdom","v":0.25},{"age":"adolescents","c":"Netherlands","v":0.1},{"age":"adolescents","c":"United Kingdom","v":0.1},{"age":"adolescents","c":"Netherlands","v":0.1},{"age":"adolescents","c":"Netherlands","v":0.1},
{"age":"young adults","c":"United Kingdom","v":25},{"age":"young adults","c":"Netherlands","v":18},{"age":"young adults","c":"Finland","v":17},{"age":"young adults","c":"United Kingdom","v":13},{"age":"young adults","c":"Finland","v":9.5},{"age":"young adults","c":"Finland","v":8},{"age":"young adults","c":"Finland","v":7},{"age":"young adults","c":"United Kingdom","v":6},{"age":"young adults","c":"United Kingdom","v":5.5},{"age":"young adults","c":"Finland","v":5},{"age":"young adults","c":"United Kingdom","v":4.5},{"age":"young adults","c":"United Kingdom","v":3.8},{"age":"young adults","c":"United Kingdom","v":3},{"age":"young adults","c":"United Kingdom","v":2.4},{"age":"young adults","c":"United Kingdom","v":2.1},{"age":"young adults","c":"Netherlands","v":1.7},{"age":"young adults","c":"United Kingdom","v":1.3},{"age":"young adults","c":"United Kingdom","v":1},{"age":"young adults","c":"United Kingdom","v":0.75},{"age":"young adults","c":"Netherlands","v":0.75},{"age":"young adults","c":"Finland","v":0.5},{"age":"young adults","c":"Finland","v":0.5},{"age":"young adults","c":"United Kingdom","v":0.5},{"age":"young adults","c":"Netherlands","v":0.25},{"age":"young adults","c":"Netherlands","v":0.1},{"age":"young adults","c":"Finland","v":0.1},{"age":"young adults","c":"Netherlands","v":0.1},
{"age":"older adults","c":"Finland","v":32},{"age":"older adults","c":"Netherlands","v":10},{"age":"older adults","c":"Finland","v":9},{"age":"older adults","c":"United Kingdom","v":8.5},{"age":"older adults","c":"Finland","v":7},{"age":"older adults","c":"United Kingdom","v":5},{"age":"older adults","c":"United Kingdom","v":4.2},{"age":"older adults","c":"United Kingdom","v":3.7},{"age":"older adults","c":"United Kingdom","v":3},{"age":"older adults","c":"United Kingdom","v":2.3},{"age":"older adults","c":"United Kingdom","v":2},{"age":"older adults","c":"Finland","v":1.6},{"age":"older adults","c":"United Kingdom","v":1.2},{"age":"older adults","c":"Finland","v":1},{"age":"older adults","c":"Netherlands","v":0.75},{"age":"older adults","c":"United Kingdom","v":0.5},{"age":"older adults","c":"United Kingdom","v":0.25},{"age":"older adults","c":"United Kingdom","v":0.12},{"age":"older adults","c":"United Kingdom","v":0.1},{"age":"older adults","c":"United Kingdom","v":0.1},{"age":"older adults","c":"United Kingdom","v":0.1}
]
},
"vconcat":[
{"title":{"text":"A","anchor":"start","frame":"bounds","font":"Liberation Sans","fontSize":28,"fontWeight":"bold","color":"black","baseline":"top","offset":-30,"dx":3},
 "vconcat":[{"title":{"text":"Ptx","font":"Liberation Serif","fontSize":36,"fontWeight":"normal","color":"black","anchor":"middle","frame":"bounds","dx":30,"offset":5},
 "spacing":-96.7,
 "hconcat":[
  {"data":{"name":"Ptx_D0"},"transform":[{"calculate":"datum.age+' D0'","as":"grp"},{"calculate":"log(datum.v)/LN10","as":"lv"},{"calculate":"round(datum.lv*10)","as":"bin"},{"window":[{"op":"row_number","as":"rank"}],"groupby":["grp","bin"],"sort":[{"field":"c"}]},{"joinaggregate":[{"op":"count","as":"n"}],"groupby":["grp","bin"]},{"calculate":"(datum.rank-(datum.n+1)/2)*min(0.4,1.3/datum.n)","as":"dx"}],
   "facet":{"column":{"field":"grp","type":"nominal","sort":["children D0","adolescents D0","young adults D0","older adults D0"],"title":null}},"spacing":0,"bounds":"flush",
   "spec":{"width":47,"height":400,"layer":[
    {"transform":[{"joinaggregate":[{"op":"min","field":"lv","as":"lo"},{"op":"max","field":"lv","as":"hi"}],"groupby":["grp"]},{"density":"lv","groupby":["grp","lo","hi"],"extent":[-1,3],"steps":241,"bandwidth":0.18},{"filter":"datum.value>=datum.lo-0.001&&datum.value<=datum.hi+0.001"},{"joinaggregate":[{"op":"max","field":"density","as":"md"}],"groupby":["grp"]},{"calculate":"0.64*datum.density/datum.md","as":"w"},{"calculate":"-datum.w","as":"nw"},{"calculate":"pow(10,datum.value)","as":"yv"}],
     "mark":{"type":"area","orient":"horizontal","fill":"white","stroke":"black","strokeWidth":1.4},
     "encoding":{"y":{"field":"yv","type":"quantitative","scale":{"type":"log","domain":[0.1,1000],"nice":false},"axis":{"values":[0.1,1,10,100,1000],"format":"~g","title":"Bmems / 100,000 PBMCs"}},"x":{"field":"w","type":"quantitative","scale":{"domain":[-1,1]},"axis":{"values":[0],"title":null}},"x2":{"field":"nw"}}},
    {"mark":{"type":"circle","size":130,"opacity":1,"stroke":"#222222","strokeWidth":0.8},
     "encoding":{"x":{"field":"dx","type":"quantitative","scale":{"domain":[-1,1]}},"y":{"field":"v","type":"quantitative","scale":{"type":"log","domain":[0.1,1000],"nice":false}},"color":{"field":"c","type":"nominal","title":null}}},
    {"transform":[{"aggregate":[{"op":"count","as":"k"}],"groupby":["grp"]}],"mark":{"type":"rule","strokeWidth":6.5,"color":"black","clip":false},"encoding":{"x":{"datum":-1.37},"x2":{"datum":1.37},"y":{"datum":0.03631}}},
    {"transform":[{"filter":"datum.age=='older adults'"},{"aggregate":[{"op":"count","as":"k"}],"groupby":["grp"]}],
     "mark":{"type":"rule","strokeDash":[2.5,3.5],"strokeWidth":1.4,"color":"black","clip":false},
     "encoding":{"x":{"datum":1.362},"y":{"datum":1000},"y2":{"datum":0.042}}}]}},
  {"spacing":-86,"hconcat":[
  {"data":{"name":"Ptx_D28"},"transform":[{"calculate":"datum.age+' D28'","as":"grp"},{"calculate":"log(datum.v)/LN10","as":"lv"},{"calculate":"round(datum.lv*10)","as":"bin"},{"window":[{"op":"row_number","as":"rank"}],"groupby":["grp","bin"],"sort":[{"field":"c"}]},{"joinaggregate":[{"op":"count","as":"n"}],"groupby":["grp","bin"]},{"calculate":"(datum.rank-(datum.n+1)/2)*min(0.4,1.3/datum.n)","as":"dx"}],
   "facet":{"column":{"field":"grp","type":"nominal","sort":["children D28","adolescents D28","young adults D28","older adults D28"],"title":null}},"spacing":0,"bounds":"flush",
   "spec":{"width":47,"height":400,"layer":[
    {"transform":[{"joinaggregate":[{"op":"min","field":"lv","as":"lo"},{"op":"max","field":"lv","as":"hi"}],"groupby":["grp"]},{"density":"lv","groupby":["grp","lo","hi"],"extent":[-1,3],"steps":241,"bandwidth":0.18},{"filter":"datum.value>=datum.lo-0.001&&datum.value<=datum.hi+0.001"},{"joinaggregate":[{"op":"max","field":"density","as":"md"}],"groupby":["grp"]},{"calculate":"0.64*datum.density/datum.md","as":"w"},{"calculate":"-datum.w","as":"nw"},{"calculate":"pow(10,datum.value)","as":"yv"}],
     "mark":{"type":"area","orient":"horizontal","fill":"white","stroke":"black","strokeWidth":1.4},
     "encoding":{"y":{"field":"yv","type":"quantitative","scale":{"type":"log","domain":[0.1,1000],"nice":false},"axis":null},"x":{"field":"w","type":"quantitative","scale":{"domain":[-1,1]},"axis":{"values":[0],"title":null}},"x2":{"field":"nw"}}},
    {"mark":{"type":"circle","size":130,"opacity":1,"stroke":"#222222","strokeWidth":0.8},
     "encoding":{"x":{"field":"dx","type":"quantitative","scale":{"domain":[-1,1]}},"y":{"field":"v","type":"quantitative","scale":{"type":"log","domain":[0.1,1000],"nice":false}},"color":{"field":"c","type":"nominal","title":null}}},
    {"transform":[{"aggregate":[{"op":"count","as":"k"}],"groupby":["grp"]}],"mark":{"type":"rule","strokeWidth":6.5,"color":"black","clip":false},"encoding":{"x":{"datum":-1.37},"x2":{"datum":1.37},"y":{"datum":0.03631}}},
    {"transform":[{"filter":"datum.age=='older adults'"},{"aggregate":[{"op":"count","as":"k"}],"groupby":["grp"]}],
     "mark":{"type":"rule","strokeDash":[2.5,3.5],"strokeWidth":1.4,"color":"black","clip":false},
     "encoding":{"x":{"datum":1.362},"y":{"datum":1000},"y2":{"datum":0.042}}}]}},
  {"data":{"name":"Ptx_Y1"},"transform":[{"calculate":"datum.age+' Y1'","as":"grp"},{"calculate":"log(datum.v)/LN10","as":"lv"},{"calculate":"round(datum.lv*10)","as":"bin"},{"window":[{"op":"row_number","as":"rank"}],"groupby":["grp","bin"],"sort":[{"field":"c"}]},{"joinaggregate":[{"op":"count","as":"n"}],"groupby":["grp","bin"]},{"calculate":"(datum.rank-(datum.n+1)/2)*min(0.4,1.3/datum.n)","as":"dx"}],
   "facet":{"column":{"field":"grp","type":"nominal","sort":["children Y1","adolescents Y1","young adults Y1","older adults Y1"],"title":null}},"spacing":0,"bounds":"flush",
   "spec":{"width":47,"height":400,"layer":[
    {"transform":[{"joinaggregate":[{"op":"min","field":"lv","as":"lo"},{"op":"max","field":"lv","as":"hi"}],"groupby":["grp"]},{"density":"lv","groupby":["grp","lo","hi"],"extent":[-1,3],"steps":241,"bandwidth":0.18},{"filter":"datum.value>=datum.lo-0.001&&datum.value<=datum.hi+0.001"},{"joinaggregate":[{"op":"max","field":"density","as":"md"}],"groupby":["grp"]},{"calculate":"0.64*datum.density/datum.md","as":"w"},{"calculate":"-datum.w","as":"nw"},{"calculate":"pow(10,datum.value)","as":"yv"}],
     "mark":{"type":"area","orient":"horizontal","fill":"white","stroke":"black","strokeWidth":1.4},
     "encoding":{"y":{"field":"yv","type":"quantitative","scale":{"type":"log","domain":[0.1,1000],"nice":false},"axis":null},"x":{"field":"w","type":"quantitative","scale":{"domain":[-1,1]},"axis":{"values":[0],"title":null}},"x2":{"field":"nw"}}},
    {"mark":{"type":"circle","size":130,"opacity":1,"stroke":"#222222","strokeWidth":0.8},
     "encoding":{"x":{"field":"dx","type":"quantitative","scale":{"domain":[-1,1]}},"y":{"field":"v","type":"quantitative","scale":{"type":"log","domain":[0.1,1000],"nice":false}},"color":{"field":"c","type":"nominal","title":null}}},
    {"transform":[{"aggregate":[{"op":"count","as":"k"}],"groupby":["grp"]}],"mark":{"type":"rule","strokeWidth":6.5,"color":"black","clip":false},"encoding":{"x":{"datum":-1.37},"x2":{"datum":1.37},"y":{"datum":0.03631}}}]}}
  ]}
 ]}]},
{"title":{"text":"B","anchor":"start","frame":"bounds","font":"Liberation Sans","fontSize":28,"fontWeight":"bold","color":"black","baseline":"top","offset":-30,"dx":3},
 "vconcat":[{"title":{"text":"FHA","font":"Liberation Serif","fontSize":38,"fontWeight":"normal","color":"black","anchor":"middle","frame":"bounds","dx":48,"offset":21},
 "spacing":-96.7,
 "hconcat":[
  {"data":{"name":"FHA_D0"},"transform":[{"calculate":"datum.age+' D0'","as":"grp"},{"calculate":"log(datum.v)/LN10","as":"lv"},{"calculate":"round(datum.lv*10)","as":"bin"},{"window":[{"op":"row_number","as":"rank"}],"groupby":["grp","bin"],"sort":[{"field":"c"}]},{"joinaggregate":[{"op":"count","as":"n"}],"groupby":["grp","bin"]},{"calculate":"(datum.rank-(datum.n+1)/2)*min(0.4,1.3/datum.n)","as":"dx"}],
   "facet":{"column":{"field":"grp","type":"nominal","sort":["children D0","adolescents D0","young adults D0","older adults D0"],"title":null}},"spacing":0,"bounds":"flush",
   "spec":{"width":47,"height":400,"layer":[
    {"transform":[{"joinaggregate":[{"op":"min","field":"lv","as":"lo"},{"op":"max","field":"lv","as":"hi"}],"groupby":["grp"]},{"density":"lv","groupby":["grp","lo","hi"],"extent":[-1,3],"steps":241,"bandwidth":0.18},{"filter":"datum.value>=datum.lo-0.001&&datum.value<=datum.hi+0.001"},{"joinaggregate":[{"op":"max","field":"density","as":"md"}],"groupby":["grp"]},{"calculate":"0.64*datum.density/datum.md","as":"w"},{"calculate":"-datum.w","as":"nw"},{"calculate":"pow(10,datum.value)","as":"yv"}],
     "mark":{"type":"area","orient":"horizontal","fill":"white","stroke":"black","strokeWidth":1.4},
     "encoding":{"y":{"field":"yv","type":"quantitative","scale":{"type":"log","domain":[0.1,1000],"nice":false},"axis":{"values":[0.1,1,10,100,1000],"format":"~g","title":"Bmems / 100,000 PBMCs"}},"x":{"field":"w","type":"quantitative","scale":{"domain":[-1,1]},"axis":{"values":[0],"title":null}},"x2":{"field":"nw"}}},
    {"mark":{"type":"circle","size":130,"opacity":1,"stroke":"#222222","strokeWidth":0.8},
     "encoding":{"x":{"field":"dx","type":"quantitative","scale":{"domain":[-1,1]}},"y":{"field":"v","type":"quantitative","scale":{"type":"log","domain":[0.1,1000],"nice":false}},"color":{"field":"c","type":"nominal","title":null}}},
    {"transform":[{"aggregate":[{"op":"count","as":"k"}],"groupby":["grp"]}],"mark":{"type":"rule","strokeWidth":6.5,"color":"black","clip":false},"encoding":{"x":{"datum":-1.37},"x2":{"datum":1.37},"y":{"datum":0.03631}}},
    {"transform":[{"filter":"datum.age=='older adults'"},{"aggregate":[{"op":"count","as":"k"}],"groupby":["grp"]}],
     "mark":{"type":"rule","strokeDash":[2.5,3.5],"strokeWidth":1.4,"color":"black","clip":false},
     "encoding":{"x":{"datum":1.362},"y":{"datum":1000},"y2":{"datum":0.042}}}]}},
  {"spacing":-86,"hconcat":[
  {"data":{"name":"FHA_D28"},"transform":[{"calculate":"datum.age+' D28'","as":"grp"},{"calculate":"log(datum.v)/LN10","as":"lv"},{"calculate":"round(datum.lv*10)","as":"bin"},{"window":[{"op":"row_number","as":"rank"}],"groupby":["grp","bin"],"sort":[{"field":"c"}]},{"joinaggregate":[{"op":"count","as":"n"}],"groupby":["grp","bin"]},{"calculate":"(datum.rank-(datum.n+1)/2)*min(0.4,1.3/datum.n)","as":"dx"}],
   "facet":{"column":{"field":"grp","type":"nominal","sort":["children D28","adolescents D28","young adults D28","older adults D28"],"title":null}},"spacing":0,"bounds":"flush",
   "spec":{"width":47,"height":400,"layer":[
    {"transform":[{"joinaggregate":[{"op":"min","field":"lv","as":"lo"},{"op":"max","field":"lv","as":"hi"}],"groupby":["grp"]},{"density":"lv","groupby":["grp","lo","hi"],"extent":[-1,3],"steps":241,"bandwidth":0.18},{"filter":"datum.value>=datum.lo-0.001&&datum.value<=datum.hi+0.001"},{"joinaggregate":[{"op":"max","field":"density","as":"md"}],"groupby":["grp"]},{"calculate":"0.64*datum.density/datum.md","as":"w"},{"calculate":"-datum.w","as":"nw"},{"calculate":"pow(10,datum.value)","as":"yv"}],
     "mark":{"type":"area","orient":"horizontal","fill":"white","stroke":"black","strokeWidth":1.4},
     "encoding":{"y":{"field":"yv","type":"quantitative","scale":{"type":"log","domain":[0.1,1000],"nice":false},"axis":null},"x":{"field":"w","type":"quantitative","scale":{"domain":[-1,1]},"axis":{"values":[0],"title":null}},"x2":{"field":"nw"}}},
    {"mark":{"type":"circle","size":130,"opacity":1,"stroke":"#222222","strokeWidth":0.8},
     "encoding":{"x":{"field":"dx","type":"quantitative","scale":{"domain":[-1,1]}},"y":{"field":"v","type":"quantitative","scale":{"type":"log","domain":[0.1,1000],"nice":false}},"color":{"field":"c","type":"nominal","title":null}}},
    {"transform":[{"aggregate":[{"op":"count","as":"k"}],"groupby":["grp"]}],"mark":{"type":"rule","strokeWidth":6.5,"color":"black","clip":false},"encoding":{"x":{"datum":-1.37},"x2":{"datum":1.37},"y":{"datum":0.03631}}},
    {"transform":[{"filter":"datum.age=='older adults'"},{"aggregate":[{"op":"count","as":"k"}],"groupby":["grp"]}],
     "mark":{"type":"rule","strokeDash":[2.5,3.5],"strokeWidth":1.4,"color":"black","clip":false},
     "encoding":{"x":{"datum":1.362},"y":{"datum":1000},"y2":{"datum":0.042}}}]}},
  {"data":{"name":"FHA_Y1"},"transform":[{"calculate":"datum.age+' Y1'","as":"grp"},{"calculate":"log(datum.v)/LN10","as":"lv"},{"calculate":"round(datum.lv*10)","as":"bin"},{"window":[{"op":"row_number","as":"rank"}],"groupby":["grp","bin"],"sort":[{"field":"c"}]},{"joinaggregate":[{"op":"count","as":"n"}],"groupby":["grp","bin"]},{"calculate":"(datum.rank-(datum.n+1)/2)*min(0.4,1.3/datum.n)","as":"dx"}],
   "facet":{"column":{"field":"grp","type":"nominal","sort":["children Y1","adolescents Y1","young adults Y1","older adults Y1"],"title":null}},"spacing":0,"bounds":"flush",
   "spec":{"width":47,"height":400,"layer":[
    {"transform":[{"joinaggregate":[{"op":"min","field":"lv","as":"lo"},{"op":"max","field":"lv","as":"hi"}],"groupby":["grp"]},{"density":"lv","groupby":["grp","lo","hi"],"extent":[-1,3],"steps":241,"bandwidth":0.18},{"filter":"datum.value>=datum.lo-0.001&&datum.value<=datum.hi+0.001"},{"joinaggregate":[{"op":"max","field":"density","as":"md"}],"groupby":["grp"]},{"calculate":"0.64*datum.density/datum.md","as":"w"},{"calculate":"-datum.w","as":"nw"},{"calculate":"pow(10,datum.value)","as":"yv"}],
     "mark":{"type":"area","orient":"horizontal","fill":"white","stroke":"black","strokeWidth":1.4},
     "encoding":{"y":{"field":"yv","type":"quantitative","scale":{"type":"log","domain":[0.1,1000],"nice":false},"axis":null},"x":{"field":"w","type":"quantitative","scale":{"domain":[-1,1]},"axis":{"values":[0],"title":null}},"x2":{"field":"nw"}}},
    {"mark":{"type":"circle","size":130,"opacity":1,"stroke":"#222222","strokeWidth":0.8},
     "encoding":{"x":{"field":"dx","type":"quantitative","scale":{"domain":[-1,1]}},"y":{"field":"v","type":"quantitative","scale":{"type":"log","domain":[0.1,1000],"nice":false}},"color":{"field":"c","type":"nominal","title":null}}},
    {"transform":[{"aggregate":[{"op":"count","as":"k"}],"groupby":["grp"]}],"mark":{"type":"rule","strokeWidth":6.5,"color":"black","clip":false},"encoding":{"x":{"datum":-1.37},"x2":{"datum":1.37},"y":{"datum":0.03631}}}]}}
  ]}
 ]}]},
{"title":{"text":"C","anchor":"start","frame":"bounds","font":"Liberation Sans","fontSize":28,"fontWeight":"bold","color":"black","baseline":"top","offset":-30,"dx":3},
 "vconcat":[{"title":{"text":"Prn","font":"Liberation Serif","fontSize":38,"fontWeight":"normal","color":"black","anchor":"middle","frame":"bounds","dx":45,"offset":21},
 "spacing":-96.7,
 "hconcat":[
  {"data":{"name":"Prn_D0"},"transform":[{"calculate":"datum.age+' D0'","as":"grp"},{"calculate":"log(datum.v)/LN10","as":"lv"},{"calculate":"round(datum.lv*10)","as":"bin"},{"window":[{"op":"row_number","as":"rank"}],"groupby":["grp","bin"],"sort":[{"field":"c"}]},{"joinaggregate":[{"op":"count","as":"n"}],"groupby":["grp","bin"]},{"calculate":"(datum.rank-(datum.n+1)/2)*min(0.4,1.3/datum.n)","as":"dx"}],
   "facet":{"column":{"field":"grp","type":"nominal","sort":["children D0","adolescents D0","young adults D0","older adults D0"],"title":null}},"spacing":0,"bounds":"flush",
   "spec":{"width":47,"height":400,"layer":[
    {"transform":[{"joinaggregate":[{"op":"min","field":"lv","as":"lo"},{"op":"max","field":"lv","as":"hi"}],"groupby":["grp"]},{"density":"lv","groupby":["grp","lo","hi"],"extent":[-1,3],"steps":241,"bandwidth":0.18},{"filter":"datum.value>=datum.lo-0.001&&datum.value<=datum.hi+0.001"},{"joinaggregate":[{"op":"max","field":"density","as":"md"}],"groupby":["grp"]},{"calculate":"0.64*datum.density/datum.md","as":"w"},{"calculate":"-datum.w","as":"nw"},{"calculate":"pow(10,datum.value)","as":"yv"}],
     "mark":{"type":"area","orient":"horizontal","fill":"white","stroke":"black","strokeWidth":1.4},
     "encoding":{"y":{"field":"yv","type":"quantitative","scale":{"type":"log","domain":[0.1,1000],"nice":false},"axis":{"values":[0.1,1,10,100,1000],"format":"~g","title":"Bmems / 100,000 PBMCs"}},"x":{"field":"w","type":"quantitative","scale":{"domain":[-1,1]},"axis":{"values":[0],"title":null}},"x2":{"field":"nw"}}},
    {"mark":{"type":"circle","size":130,"opacity":1,"stroke":"#222222","strokeWidth":0.8},
     "encoding":{"x":{"field":"dx","type":"quantitative","scale":{"domain":[-1,1]}},"y":{"field":"v","type":"quantitative","scale":{"type":"log","domain":[0.1,1000],"nice":false}},"color":{"field":"c","type":"nominal","title":null}}},
    {"transform":[{"aggregate":[{"op":"count","as":"k"}],"groupby":["grp"]}],"mark":{"type":"rule","strokeWidth":6.5,"color":"black","clip":false},"encoding":{"x":{"datum":-1.37},"x2":{"datum":1.37},"y":{"datum":0.03631}}},
    {"transform":[{"filter":"datum.age=='older adults'"},{"aggregate":[{"op":"count","as":"k"}],"groupby":["grp"]}],
     "mark":{"type":"rule","strokeDash":[2.5,3.5],"strokeWidth":1.4,"color":"black","clip":false},
     "encoding":{"x":{"datum":1.362},"y":{"datum":1000},"y2":{"datum":0.042}}}]}},
  {"spacing":-86,"hconcat":[
  {"data":{"name":"Prn_D28"},"transform":[{"calculate":"datum.age+' D28'","as":"grp"},{"calculate":"log(datum.v)/LN10","as":"lv"},{"calculate":"round(datum.lv*10)","as":"bin"},{"window":[{"op":"row_number","as":"rank"}],"groupby":["grp","bin"],"sort":[{"field":"c"}]},{"joinaggregate":[{"op":"count","as":"n"}],"groupby":["grp","bin"]},{"calculate":"(datum.rank-(datum.n+1)/2)*min(0.4,1.3/datum.n)","as":"dx"}],
   "facet":{"column":{"field":"grp","type":"nominal","sort":["children D28","adolescents D28","young adults D28","older adults D28"],"title":null}},"spacing":0,"bounds":"flush",
   "spec":{"width":47,"height":400,"layer":[
    {"transform":[{"joinaggregate":[{"op":"min","field":"lv","as":"lo"},{"op":"max","field":"lv","as":"hi"}],"groupby":["grp"]},{"density":"lv","groupby":["grp","lo","hi"],"extent":[-1,3],"steps":241,"bandwidth":0.18},{"filter":"datum.value>=datum.lo-0.001&&datum.value<=datum.hi+0.001"},{"joinaggregate":[{"op":"max","field":"density","as":"md"}],"groupby":["grp"]},{"calculate":"0.64*datum.density/datum.md","as":"w"},{"calculate":"-datum.w","as":"nw"},{"calculate":"pow(10,datum.value)","as":"yv"}],
     "mark":{"type":"area","orient":"horizontal","fill":"white","stroke":"black","strokeWidth":1.4},
     "encoding":{"y":{"field":"yv","type":"quantitative","scale":{"type":"log","domain":[0.1,1000],"nice":false},"axis":null},"x":{"field":"w","type":"quantitative","scale":{"domain":[-1,1]},"axis":{"values":[0],"title":null}},"x2":{"field":"nw"}}},
    {"mark":{"type":"circle","size":130,"opacity":1,"stroke":"#222222","strokeWidth":0.8},
     "encoding":{"x":{"field":"dx","type":"quantitative","scale":{"domain":[-1,1]}},"y":{"field":"v","type":"quantitative","scale":{"type":"log","domain":[0.1,1000],"nice":false}},"color":{"field":"c","type":"nominal","title":null}}},
    {"transform":[{"aggregate":[{"op":"count","as":"k"}],"groupby":["grp"]}],"mark":{"type":"rule","strokeWidth":6.5,"color":"black","clip":false},"encoding":{"x":{"datum":-1.37},"x2":{"datum":1.37},"y":{"datum":0.03631}}},
    {"transform":[{"filter":"datum.age=='older adults'"},{"aggregate":[{"op":"count","as":"k"}],"groupby":["grp"]}],
     "mark":{"type":"rule","strokeDash":[2.5,3.5],"strokeWidth":1.4,"color":"black","clip":false},
     "encoding":{"x":{"datum":1.362},"y":{"datum":1000},"y2":{"datum":0.042}}}]}},
  {"data":{"name":"Prn_Y1"},"transform":[{"calculate":"datum.age+' Y1'","as":"grp"},{"calculate":"log(datum.v)/LN10","as":"lv"},{"calculate":"round(datum.lv*10)","as":"bin"},{"window":[{"op":"row_number","as":"rank"}],"groupby":["grp","bin"],"sort":[{"field":"c"}]},{"joinaggregate":[{"op":"count","as":"n"}],"groupby":["grp","bin"]},{"calculate":"(datum.rank-(datum.n+1)/2)*min(0.4,1.3/datum.n)","as":"dx"}],
   "facet":{"column":{"field":"grp","type":"nominal","sort":["children Y1","adolescents Y1","young adults Y1","older adults Y1"],"title":null}},"spacing":0,"bounds":"flush",
   "spec":{"width":47,"height":400,"layer":[
    {"transform":[{"joinaggregate":[{"op":"min","field":"lv","as":"lo"},{"op":"max","field":"lv","as":"hi"}],"groupby":["grp"]},{"density":"lv","groupby":["grp","lo","hi"],"extent":[-1,3],"steps":241,"bandwidth":0.18},{"filter":"datum.value>=datum.lo-0.001&&datum.value<=datum.hi+0.001"},{"joinaggregate":[{"op":"max","field":"density","as":"md"}],"groupby":["grp"]},{"calculate":"0.64*datum.density/datum.md","as":"w"},{"calculate":"-datum.w","as":"nw"},{"calculate":"pow(10,datum.value)","as":"yv"}],
     "mark":{"type":"area","orient":"horizontal","fill":"white","stroke":"black","strokeWidth":1.4},
     "encoding":{"y":{"field":"yv","type":"quantitative","scale":{"type":"log","domain":[0.1,1000],"nice":false},"axis":null},"x":{"field":"w","type":"quantitative","scale":{"domain":[-1,1]},"axis":{"values":[0],"title":null}},"x2":{"field":"nw"}}},
    {"mark":{"type":"circle","size":130,"opacity":1,"stroke":"#222222","strokeWidth":0.8},
     "encoding":{"x":{"field":"dx","type":"quantitative","scale":{"domain":[-1,1]}},"y":{"field":"v","type":"quantitative","scale":{"type":"log","domain":[0.1,1000],"nice":false}},"color":{"field":"c","type":"nominal","title":null}}},
    {"transform":[{"aggregate":[{"op":"count","as":"k"}],"groupby":["grp"]}],"mark":{"type":"rule","strokeWidth":6.5,"color":"black","clip":false},"encoding":{"x":{"datum":-1.37},"x2":{"datum":1.37},"y":{"datum":0.03631}}}]}}
  ]}
 ]}]}
],
"spacing":101,
"config":{
 "view":{"stroke":null},
 "range":{"category":["#8a68b9","#f7943f","#92c050"]},
 "axisX":{"offset":44,"labels":false,"grid":false,"domainColor":"black","domainWidth":6.5,"tickColor":"black","tickWidth":6,"tickSize":17},
 "axisY":{"offset":50,"grid":false,"domainColor":"black","domainWidth":7,"tickColor":"black","tickWidth":6,"tickSize":18,"labelFont":"Liberation Serif","labelFontWeight":"bold","labelFontSize":31,"labelColor":"black","labelPadding":4,"titleFont":"Liberation Serif","titleFontWeight":"bold","titleFontSize":35,"titleColor":"black","titlePadding":14},
 "header":{"labelOrient":"bottom","labelAngle":-45,"labelAlign":"right","labelBaseline":"middle","labelFont":"Liberation Serif","labelFontWeight":"bold","labelFontSize":30,"labelColor":"black","labelPadding":33},
 "legend":{"orient":"none","legendX":407,"legendY":-3,"labelFont":"Liberation Serif","labelFontSize":27,"labelColor":"black","labelLimit":400,"symbolSize":110,"symbolType":"circle","symbolStrokeColor":"#222222","symbolStrokeWidth":0.8,"rowPadding":12,"labelOffset":16}
}
}
